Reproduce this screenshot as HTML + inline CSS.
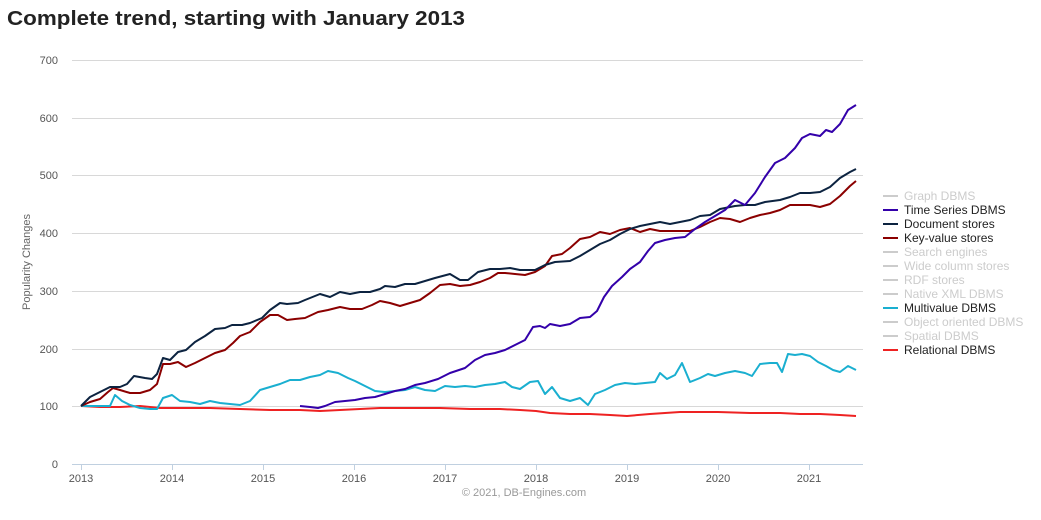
<!DOCTYPE html>
<html><head><meta charset="utf-8"><style>
body{margin:0;background:#fff;font-family:"Liberation Sans",Arial,sans-serif}
</style></head><body>
<svg width="1041" height="515" xmlns="http://www.w3.org/2000/svg" font-family="Liberation Sans, Arial, sans-serif">
<text x="7" y="25" font-size="20" font-weight="bold" fill="#222" textLength="458" lengthAdjust="spacingAndGlyphs">Complete trend, starting with January 2013</text>
<g stroke="#d8d8d8" stroke-width="1">
<line x1="72" x2="863" y1="60.5" y2="60.5"/><line x1="72" x2="863" y1="118.5" y2="118.5"/>
<line x1="72" x2="863" y1="175.5" y2="175.5"/><line x1="72" x2="863" y1="233.5" y2="233.5"/>
<line x1="72" x2="863" y1="291.5" y2="291.5"/><line x1="72" x2="863" y1="349.5" y2="349.5"/>
<line x1="72" x2="863" y1="406.5" y2="406.5"/>
</g>
<line x1="72" x2="863" y1="464.5" y2="464.5" stroke="#c0d0e0"/>
<g stroke="#c0d0e0"><line x1="81.5" x2="81.5" y1="464" y2="470"/><line x1="172.5" x2="172.5" y1="464" y2="470"/><line x1="263.5" x2="263.5" y1="464" y2="470"/><line x1="354.5" x2="354.5" y1="464" y2="470"/><line x1="445.5" x2="445.5" y1="464" y2="470"/><line x1="536.5" x2="536.5" y1="464" y2="470"/><line x1="627.5" x2="627.5" y1="464" y2="470"/><line x1="718.5" x2="718.5" y1="464" y2="470"/><line x1="809.5" x2="809.5" y1="464" y2="470"/></g>
<g font-size="11" fill="#555" text-anchor="end">
<text x="58" y="64">700</text><text x="58" y="122">600</text><text x="58" y="179">500</text><text x="58" y="237">400</text><text x="58" y="295">300</text><text x="58" y="353">200</text><text x="58" y="410">100</text><text x="58" y="468">0</text>
</g>
<g font-size="11" fill="#555" text-anchor="middle">
<text x="81" y="482">2013</text><text x="172" y="482">2014</text><text x="263" y="482">2015</text><text x="354" y="482">2016</text><text x="445" y="482">2017</text><text x="536" y="482">2018</text><text x="627" y="482">2019</text><text x="718" y="482">2020</text><text x="809" y="482">2021</text>
</g>
<text x="30" y="262" font-size="11" fill="#666" text-anchor="middle" transform="rotate(-90 30 262)">Popularity Changes</text>
<text x="524" y="496" font-size="11" fill="#999" text-anchor="middle">© 2021, DB-Engines.com</text>
<g fill="none" stroke-width="2" stroke-linejoin="round">
<polyline stroke="#ee2222" points="81,406 100,407 120,407 140,406 160,408 180,408 210,408 240,409 270,410 300,410 320,411 340,410 360,409 380,408 410,408 440,408 470,409 500,409 520,410 536,411 550,413 570,414 590,414 610,415 627,416 650,414 680,412 718,412 750,413 780,413 800,414 820,414 840,415 856,416"/>
<polyline stroke="#1aafd0" points="81,406 90,406 100,406 110,406 115,395 122,401 130,405 140,408 150,409 157,409 163,398 172,395 180,401 190,402 200,404 210,401 220,403 230,404 240,405 250,401 260,390 270,387 280,384 290,380 300,380 310,377 320,375 328,371 338,373 348,378 355,381 365,386 375,391 385,392 395,391 405,390 415,387 425,390 435,391 445,386 455,387 465,386 475,387 485,385 495,384 505,382 512,387 520,389 530,382 538,381 545,394 552,387 560,398 570,401 580,398 588,405 595,394 605,390 615,385 625,383 635,384 645,383 655,382 660,373 667,379 675,375 682,363 690,382 700,378 708,374 715,376 725,373 735,371 745,373 752,376 760,364 770,363 777,363 782,372 788,354 795,355 802,354 810,356 818,362 826,366 833,370 840,372 848,366 856,370"/>
<polyline stroke="#8b0000" points="81,406 90,402 100,399 108,392 113,388 120,390 130,393 140,393 150,390 157,384 163,364 170,364 178,362 186,367 195,363 205,358 215,353 225,350 233,343 240,336 250,332 260,322 270,315 278,315 287,320 295,319 305,318 318,312 328,310 340,307 350,309 362,309 372,305 380,301 390,303 400,306 410,303 420,300 430,293 440,285 450,284 460,286 470,285 480,282 490,278 498,273 505,273 515,274 525,275 535,272 545,266 552,256 562,254 570,248 580,239 590,237 600,232 610,234 620,230 630,228 640,232 650,229 660,231 670,231 680,231 690,231 700,227 710,222 720,218 730,219 740,222 750,218 760,215 770,213 780,210 790,205 800,205 810,205 820,207 830,204 840,196 850,186 856,181"/>
<polyline stroke="#0c2340" points="81,406 90,397 100,392 110,387 120,387 127,384 134,376 145,378 152,379 157,374 163,358 170,360 178,352 186,350 195,342 205,336 215,329 225,328 232,325 242,325 250,323 262,318 270,310 280,303 287,304 298,303 305,300 320,294 330,297 340,292 350,294 360,292 370,292 380,289 385,286 395,287 405,284 415,284 425,281 435,278 450,274 460,280 468,280 478,272 490,269 500,269 510,268 520,270 535,270 545,265 555,262 570,261 580,256 590,250 600,244 610,240 620,234 630,229 640,226 650,224 660,222 670,224 680,222 690,220 700,216 710,215 720,209 735,206 745,205 755,205 765,202 780,200 790,197 800,193 810,193 820,192 830,187 840,178 850,172 856,169"/>
<polyline stroke="#3300aa" points="300,406 310,407 318,408 325,406 335,402 345,401 355,400 365,398 375,397 385,394 395,391 405,389 415,385 425,383 438,379 450,373 465,368 475,360 485,355 495,353 505,350 515,345 525,340 533,327 540,326 545,328 550,324 560,326 570,324 580,318 590,317 597,311 604,297 612,286 622,277 630,269 640,262 648,251 655,243 665,240 675,238 685,237 695,229 705,222 715,216 725,210 735,200 745,205 755,193 765,177 775,163 785,158 795,148 802,138 810,134 820,136 826,130 832,132 840,124 848,110 856,105"/>
</g>
<g font-size="12">
<g stroke-width="2">
<line x1="883" x2="898" y1="196" y2="196" stroke="#ccc"/>
<line x1="883" x2="898" y1="210" y2="210" stroke="#3300aa"/>
<line x1="883" x2="898" y1="224" y2="224" stroke="#0c2340"/>
<line x1="883" x2="898" y1="238" y2="238" stroke="#8b0000"/>
<line x1="883" x2="898" y1="252" y2="252" stroke="#ccc"/>
<line x1="883" x2="898" y1="266" y2="266" stroke="#ccc"/>
<line x1="883" x2="898" y1="280" y2="280" stroke="#ccc"/>
<line x1="883" x2="898" y1="294" y2="294" stroke="#ccc"/>
<line x1="883" x2="898" y1="308" y2="308" stroke="#1aafd0"/>
<line x1="883" x2="898" y1="322" y2="322" stroke="#ccc"/>
<line x1="883" x2="898" y1="336" y2="336" stroke="#ccc"/>
<line x1="883" x2="898" y1="350" y2="350" stroke="#ee2222"/>
</g>
<text x="904" y="200" fill="#ccc">Graph DBMS</text>
<text x="904" y="214" fill="#222">Time Series DBMS</text>
<text x="904" y="228" fill="#222">Document stores</text>
<text x="904" y="242" fill="#222">Key-value stores</text>
<text x="904" y="256" fill="#ccc">Search engines</text>
<text x="904" y="270" fill="#ccc">Wide column stores</text>
<text x="904" y="284" fill="#ccc">RDF stores</text>
<text x="904" y="298" fill="#ccc">Native XML DBMS</text>
<text x="904" y="312" fill="#222">Multivalue DBMS</text>
<text x="904" y="326" fill="#ccc">Object oriented DBMS</text>
<text x="904" y="340" fill="#ccc">Spatial DBMS</text>
<text x="904" y="354" fill="#222">Relational DBMS</text>
</g>
</svg>
</body></html>
